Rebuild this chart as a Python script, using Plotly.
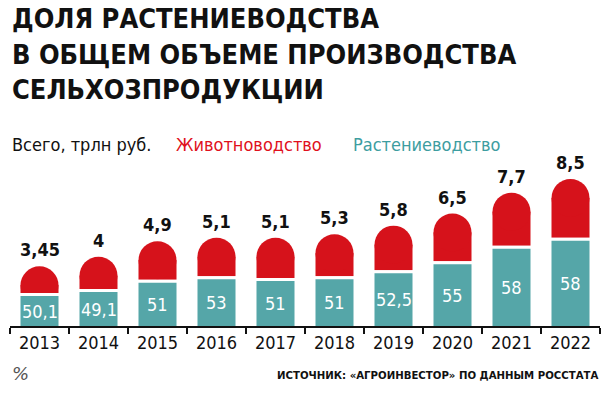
import plotly.graph_objects as go

years = ["2013", "2014", "2015", "2016", "2017", "2018", "2019", "2020", "2021", "2022"]
total = [3.45, 4, 4.9, 5.1, 5.1, 5.3, 5.8, 6.5, 7.7, 8.5]
total_labels = ["3,45", "4", "4,9", "5,1", "5,1", "5,3", "5,8", "6,5", "7,7", "8,5"]
crop_share = [50.1, 49.1, 51, 53, 51, 51, 52.5, 55, 58, 58]
crop_labels = ["50,1", "49,1", "51", "53", "51", "51", "52,5", "55", "58", "58"]

crop_val = [t * s / 100 for t, s in zip(total, crop_share)]
pos = list(range(len(years)))

W, H = 609, 394
ML, MR, MT, MB = 10, 9, 162, 68
PH = H - MT - MB
PW = W - ML - MR
PX_PER_UNIT = 17.3
YMAX = PH / PX_PER_UNIT
BARW = 38          # bar width in px
GAP = 3            # white gap between segments in px

def py(p):
    return (H - MB - p) / PH

def px(p):
    return (p - ML) / PW

TEAL = "#55a6a8"
RED = "#d6121b"
FONT = "DejaVu Sans Condensed, DejaVu Sans, sans-serif"

r_units = (BARW / 2) / PX_PER_UNIT
gap_units = GAP / PX_PER_UNIT

tx, ty, rx, ry, gx, gy = [], [], [], [], [], []
for p, c, t in zip(pos, crop_val, total):
    tx += [p, p, None]
    ty += [0, c, None]
    rx += [p, p, None]
    ry += [c + gap_units, t - r_units, None]
    gx += [p, p, None]
    gy += [c, c + gap_units, None]

fig = go.Figure()
# red body + rounded cap
fig.add_trace(go.Scatter(x=rx, y=ry, mode="lines", name="Животноводство",
                         line=dict(color=RED, width=BARW), hoverinfo="skip"))
fig.add_trace(go.Scatter(x=pos, y=[t - r_units for t in total], mode="markers",
                         marker=dict(color=RED, size=BARW, line=dict(width=0)),
                         hoverinfo="skip", showlegend=False))
# white separator, then crop bars on top
fig.add_trace(go.Scatter(x=gx, y=gy, mode="lines", line=dict(color="white", width=BARW + 2),
                         hoverinfo="skip", showlegend=False))
fig.add_trace(go.Scatter(x=tx, y=ty, mode="lines", name="Растениеводство",
                         line=dict(color=TEAL, width=BARW), hoverinfo="skip"))

for p, c, lab in zip(pos, crop_val, crop_labels):
    fig.add_annotation(x=p, y=c / 2, text=lab, showarrow=False,
                       yanchor="middle", xanchor="center",
                       font=dict(size=18, color="white", family=FONT))

for p, t, lab in zip(pos, total, total_labels):
    fig.add_annotation(x=p, y=t, text="<b>" + lab + "</b>", showarrow=False,
                       yanchor="bottom", yshift=4,
                       font=dict(size=18, color="#111", family=FONT))

title_lines = ["ДОЛЯ РАСТЕНИЕВОДСТВА", "В ОБЩЕМ ОБЪЕМЕ ПРОИЗВОДСТВА", "СЕЛЬХОЗПРОДУКЦИИ"]
title_y = [19, 54, 89]
for line, yy in zip(title_lines, title_y):
    fig.add_annotation(xref="paper", yref="paper", x=px(10), y=py(yy),
                       xanchor="left", yanchor="middle", showarrow=False,
                       text="<b>" + line + "</b>",
                       font=dict(size=27, color="#111", family=FONT))

legend_items = [("Всего, трлн руб.", "#111", 10), ("Животноводство", "#e0101c", 174), ("Растениеводство", "#3d9da0", 351)]
for txt, col, xx in legend_items:
    fig.add_annotation(xref="paper", yref="paper", x=px(xx), y=py(144),
                       xanchor="left", yanchor="middle", showarrow=False,
                       text=txt, font=dict(size=18, color=col, family=FONT))

fig.add_annotation(xref="paper", yref="paper", x=px(10), y=py(373),
                   xanchor="left", yanchor="middle", showarrow=False,
                   text="<i>%</i>", font=dict(size=18, color="#555", family="DejaVu Sans, sans-serif"))
fig.add_annotation(xref="paper", yref="paper", x=px(600), y=py(375),
                   xanchor="right", yanchor="middle", showarrow=False,
                   text="<b>ИСТОЧНИК: «АГРОИНВЕСТОР» ПО ДАННЫМ РОССТАТА</b>",
                   font=dict(size=11.3, color="#111", family=FONT))

bounds = [p - 0.5 for p in pos] + [pos[-1] + 0.5]
fig.update_layout(
    width=W, height=H,
    margin=dict(l=ML, r=MR, t=MT, b=MB, autoexpand=False),
    paper_bgcolor="white", plot_bgcolor="white", showlegend=False,
    xaxis=dict(range=[-0.5, len(years) - 0.5], showline=True, linecolor="#111", linewidth=1.5,
               tickmode="array", tickvals=pos, ticktext=years, ticks="",
               minor=dict(tickmode="array", tickvals=bounds, ticks="outside", ticklen=6,
                          tickcolor="#111", tickwidth=1.3, showgrid=False),
               showgrid=False, zeroline=False, automargin=False, tickangle=0,
               tickfont=dict(size=18, color="#111", family=FONT)),
    yaxis=dict(range=[0, YMAX], visible=False, showgrid=False, zeroline=False),
)

fig.write_html("out.html", config={"displayModeBar": False, "staticPlot": True},
               post_script="document.body.style.margin='0';document.body.style.overflow='hidden';")
